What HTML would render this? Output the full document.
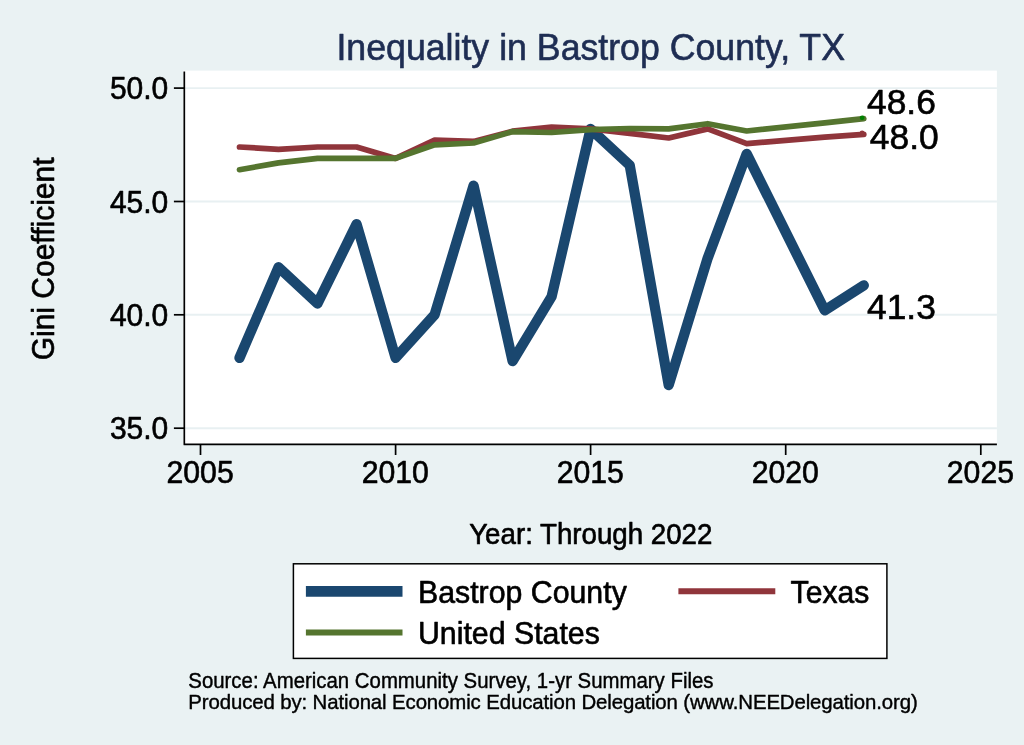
<!DOCTYPE html>
<html lang="en"><head><meta charset="utf-8"><title>Inequality in Bastrop County, TX</title>
<style>html,body{margin:0;padding:0;background:#eaf2f3}svg{display:block}text{stroke:#000;stroke-width:.6px;paint-order:stroke fill;stroke-linejoin:round}#title{stroke:#1e2d53}#n1,#n2{stroke-width:.4px}</style></head>
<body>
<svg width="1024" height="745" viewBox="0 0 1024 745" font-family='"Liberation Sans", sans-serif'>
<rect width="1024" height="745" fill="#eaf2f3"/>
<rect x="183" y="70.6" width="813.9" height="373.8" fill="#ffffff"/>
<line x1="184.2" x2="996.9" y1="428.2" y2="428.2" stroke="#e8f0f2" stroke-width="1.9"/>
<line x1="184.2" x2="996.9" y1="314.8" y2="314.8" stroke="#e8f0f2" stroke-width="1.9"/>
<line x1="184.2" x2="996.9" y1="201.5" y2="201.5" stroke="#e8f0f2" stroke-width="1.9"/>
<line x1="184.2" x2="996.9" y1="88.1" y2="88.1" stroke="#e8f0f2" stroke-width="1.9"/>
<polyline points="239.5,357.9 278.5,267.2 317.5,303.5 356.6,224.1 395.6,357.9 434.6,314.8 473.6,185.6 512.6,361.1 551.6,296.7 590.6,128.9 629.7,165.2 668.7,385.1 707.7,258.1 746.7,153.9 824.7,310.3 863.8,285.4" fill="none" stroke="#1a476f" stroke-width="10.3" stroke-linejoin="round" stroke-linecap="round"/>
<polyline points="239.5,147.0 278.5,149.3 317.5,147.0 356.6,147.0 395.6,158.4 434.6,140.2 473.6,141.4 512.6,131.2 551.6,127.1 590.6,128.9 629.7,133.4 668.7,138.0 707.7,128.9 746.7,143.6 824.7,137.1 863.8,134.4" fill="none" stroke="#90353b" stroke-width="5.7" stroke-linejoin="round" stroke-linecap="round"/>
<polyline points="239.5,169.7 278.5,162.9 317.5,158.4 356.6,158.4 395.6,158.4 434.6,144.8 473.6,143.0 512.6,131.6 551.6,132.5 590.6,129.6 629.7,128.5 668.7,128.9 707.7,123.7 746.7,131.0 824.7,122.8 863.8,118.7" fill="none" stroke="#55752f" stroke-width="5.7" stroke-linejoin="round" stroke-linecap="round"/>
<circle cx="862.1" cy="132.8" r="2.4" fill="#90353b"/>
<circle cx="862.1" cy="117.8" r="2.4" fill="#008000"/>
<path d="M184.3,71.6 V444.4 H996.9" fill="none" stroke="#000" stroke-width="1.7" stroke-linejoin="round"/>
<line x1="173.9" x2="184.2" y1="428.2" y2="428.2" stroke="#000" stroke-width="1.7"/>
<text id="yl35" transform="translate(168.3,439.4) scale(1,1.03)" font-size="30" text-anchor="end">35.0</text>
<line x1="173.9" x2="184.2" y1="314.8" y2="314.8" stroke="#000" stroke-width="1.7"/>
<text id="yl40" transform="translate(168.3,326.0) scale(1,1.03)" font-size="30" text-anchor="end">40.0</text>
<line x1="173.9" x2="184.2" y1="201.5" y2="201.5" stroke="#000" stroke-width="1.7"/>
<text id="yl45" transform="translate(168.3,212.7) scale(1,1.03)" font-size="30" text-anchor="end">45.0</text>
<line x1="173.9" x2="184.2" y1="88.1" y2="88.1" stroke="#000" stroke-width="1.7"/>
<text id="yl50" transform="translate(168.3,99.3) scale(1,1.03)" font-size="30" text-anchor="end">50.0</text>
<line x1="200.5" x2="200.5" y1="444.4" y2="455" stroke="#000" stroke-width="1.7"/>
<text id="xl2005" transform="translate(200.1,482.7) scale(1,1.03)" font-size="30.2" text-anchor="middle">2005</text>
<line x1="395.6" x2="395.6" y1="444.4" y2="455" stroke="#000" stroke-width="1.7"/>
<text id="xl2010" transform="translate(395.2,482.7) scale(1,1.03)" font-size="30.2" text-anchor="middle">2010</text>
<line x1="590.6" x2="590.6" y1="444.4" y2="455" stroke="#000" stroke-width="1.7"/>
<text id="xl2015" transform="translate(590.2,482.7) scale(1,1.03)" font-size="30.2" text-anchor="middle">2015</text>
<line x1="785.7" x2="785.7" y1="444.4" y2="455" stroke="#000" stroke-width="1.7"/>
<text id="xl2020" transform="translate(785.3,482.7) scale(1,1.03)" font-size="30.2" text-anchor="middle">2020</text>
<line x1="980.8" x2="980.8" y1="444.4" y2="455" stroke="#000" stroke-width="1.7"/>
<text id="xl2025" transform="translate(980.4,482.7) scale(1,1.03)" font-size="30.2" text-anchor="middle">2025</text>
<text id="title" transform="translate(590.7,59.9) scale(1,1.02)" font-size="35.7" text-anchor="middle" fill="#1e2d53">Inequality in Bastrop County, TX</text>
<text id="ytitle" transform="translate(54.2,258.9) rotate(-90) scale(1,1.03)" font-size="30" text-anchor="middle">Gini Coefficient</text>
<text id="xtitle" transform="translate(590.8,544.1) scale(1,1.07)" font-size="27.7" text-anchor="middle">Year: Through 2022</text>
<text id="l486" transform="translate(867.0,113.9) scale(1,1.01)" font-size="35.4">48.6</text>
<text id="l480" transform="translate(869.8,148.6) scale(1,1.01)" font-size="35.4">48.0</text>
<text id="l413" transform="translate(867.0,318.8) scale(1,1.01)" font-size="35.4">41.3</text>
<rect x="293.4" y="563.8" width="593.5" height="94.6" fill="#fff" stroke="#000" stroke-width="1.5"/>
<line x1="305.9" x2="402.5" y1="591.4" y2="591.4" stroke="#1a476f" stroke-width="10.6"/>
<line x1="305.9" x2="402.5" y1="632.6" y2="632.6" stroke="#55752f" stroke-width="6"/>
<line x1="678.4" x2="775.3" y1="591.2" y2="591.2" stroke="#90353b" stroke-width="6"/>
<text id="lg1" transform="translate(418.0,602.8) scale(1,1.02)" font-size="30.3">Bastrop County</text>
<text id="lg2" transform="translate(418.0,644.1) scale(1,1.02)" font-size="30.3">United States</text>
<text id="lg3" transform="translate(790.6,602.7) scale(1,1.02)" font-size="30.1">Texas</text>
<text id="n1" transform="translate(188.3,688.3) scale(1,1.12)" font-size="20.4">Source: American Community Survey, 1-yr Summary Files</text>
<text id="n2" transform="translate(188.3,709.1) scale(1,1.03)" font-size="20.4" textLength="729.4" lengthAdjust="spacing">Produced by: National Economic Education Delegation (www.NEEDelegation.org)</text>
</svg>
</body></html>
